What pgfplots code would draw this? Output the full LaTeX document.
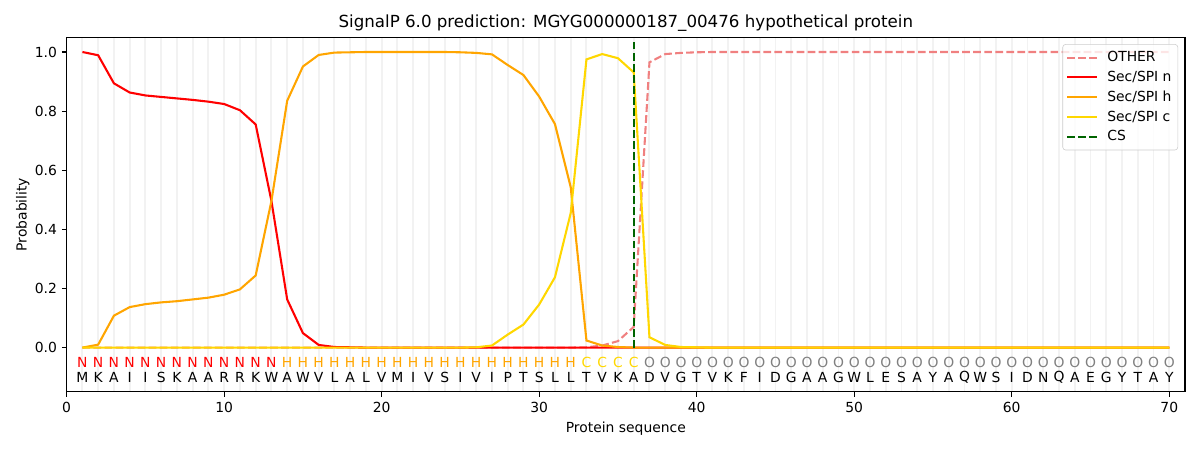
\documentclass[border=0pt]{standalone}
\usepackage{pgfplots}
\pgfplotsset{compat=1.18}
\usepackage{pgfplotstable}
\usepackage{fontspec}
\setmainfont{DejaVu Sans}
\definecolor{lcoral}{HTML}{F08080}
\definecolor{mporange}{HTML}{FFA500}
\definecolor{mpgold}{HTML}{FFD700}
\definecolor{mpdgreen}{HTML}{006400}
\definecolor{mpgray}{HTML}{808080}
\definecolor{gridc}{HTML}{F2F2F2}

\pgfplotstableread{
x other n h c
1 0 1.000 0.000 0
2 0 0.989 0.010 0
3 0 0.894 0.108 0
4 0 0.863 0.137 0
5 0 0.853 0.147 0
6 0 0.848 0.153 0
7 0 0.843 0.157 0
8 0 0.838 0.163 0
9 0 0.832 0.169 0
10 0 0.824 0.179 0
11 0 0.803 0.197 0
12 0 0.755 0.244 0
13 0 0.496 0.496 0
14 0 0.163 0.835 0
15 0 0.049 0.951 0
16 0 0.009 0.990 0
17 0 0.002 0.998 0
18 0 0.001 0.999 0
19 0 0 1.000 0
20 0 0 1.000 0
21 0 0 1.000 0
22 0 0 1.000 0
23 0 0 1.000 0
24 0 0 1.000 0
25 0 0 0.999 0
26 0 0 0.997 0.001
27 0 0 0.992 0.007
28 0 0 0.956 0.044
29 0 0 0.922 0.078
30 0 0 0.849 0.146
31 0 0 0.756 0.238
32 0 0 0.543 0.455
33 0.001 0 0.024 0.975
34 0.007 0 0.007 0.993
35 0.022 0 0.002 0.979
36 0.070 0 0.000 0.931
37 0.965 0 0 0.035
38 0.993 0 0 0.009
39 0.997 0 0 0.002
40 0.999 0 0 0.001
41 1 0 0 0
42 1 0 0 0
43 1 0 0 0
44 1 0 0 0
45 1 0 0 0
46 1 0 0 0
47 1 0 0 0
48 1 0 0 0
49 1 0 0 0
50 1 0 0 0
51 1 0 0 0
52 1 0 0 0
53 1 0 0 0
54 1 0 0 0
55 1 0 0 0
56 1 0 0 0
57 1 0 0 0
58 1 0 0 0
59 1 0 0 0
60 1 0 0 0
61 1 0 0 0
62 1 0 0 0
63 1 0 0 0
64 1 0 0 0
65 1 0 0 0
66 1 0 0 0
67 1 0 0 0
68 1 0 0 0
69 1 0 0 0
70 1 0 0 0
}\probs

\pgfplotstableread{
x y lab
1 -0.1 M
2 -0.1 K
3 -0.1 A
4 -0.1 I
5 -0.1 I
6 -0.1 S
7 -0.1 K
8 -0.1 A
9 -0.1 A
10 -0.1 R
11 -0.1 R
12 -0.1 K
13 -0.1 W
14 -0.1 A
15 -0.1 W
16 -0.1 V
17 -0.1 L
18 -0.1 A
19 -0.1 L
20 -0.1 V
21 -0.1 M
22 -0.1 I
23 -0.1 V
24 -0.1 S
25 -0.1 I
26 -0.1 V
27 -0.1 I
28 -0.1 P
29 -0.1 T
30 -0.1 S
31 -0.1 L
32 -0.1 L
33 -0.1 T
34 -0.1 V
35 -0.1 K
36 -0.1 A
37 -0.1 D
38 -0.1 V
39 -0.1 G
40 -0.1 T
41 -0.1 V
42 -0.1 K
43 -0.1 F
44 -0.1 I
45 -0.1 D
46 -0.1 G
47 -0.1 A
48 -0.1 A
49 -0.1 G
50 -0.1 W
51 -0.1 L
52 -0.1 E
53 -0.1 S
54 -0.1 A
55 -0.1 Y
56 -0.1 A
57 -0.1 Q
58 -0.1 W
59 -0.1 S
60 -0.1 I
61 -0.1 D
62 -0.1 N
63 -0.1 Q
64 -0.1 A
65 -0.1 E
66 -0.1 G
67 -0.1 Y
68 -0.1 T
69 -0.1 A
70 -0.1 Y
}\residues

\pgfplotstableread{
x y lab
1 -0.05 N
2 -0.05 N
3 -0.05 N
4 -0.05 N
5 -0.05 N
6 -0.05 N
7 -0.05 N
8 -0.05 N
9 -0.05 N
10 -0.05 N
11 -0.05 N
12 -0.05 N
13 -0.05 N
}\labN

\pgfplotstableread{
x y lab
14 -0.05 H
15 -0.05 H
16 -0.05 H
17 -0.05 H
18 -0.05 H
19 -0.05 H
20 -0.05 H
21 -0.05 H
22 -0.05 H
23 -0.05 H
24 -0.05 H
25 -0.05 H
26 -0.05 H
27 -0.05 H
28 -0.05 H
29 -0.05 H
30 -0.05 H
31 -0.05 H
32 -0.05 H
}\labH

\pgfplotstableread{
x y lab
33 -0.05 C
34 -0.05 C
35 -0.05 C
36 -0.05 C
}\labC

\pgfplotstableread{
x y lab
37 -0.05 O
38 -0.05 O
39 -0.05 O
40 -0.05 O
41 -0.05 O
42 -0.05 O
43 -0.05 O
44 -0.05 O
45 -0.05 O
46 -0.05 O
47 -0.05 O
48 -0.05 O
49 -0.05 O
50 -0.05 O
51 -0.05 O
52 -0.05 O
53 -0.05 O
54 -0.05 O
55 -0.05 O
56 -0.05 O
57 -0.05 O
58 -0.05 O
59 -0.05 O
60 -0.05 O
61 -0.05 O
62 -0.05 O
63 -0.05 O
64 -0.05 O
65 -0.05 O
66 -0.05 O
67 -0.05 O
68 -0.05 O
69 -0.05 O
70 -0.05 O
}\labO

\begin{document}
\begin{tikzpicture}
\useasboundingbox (0,0) rectangle (864pt,324pt);
\begin{axis}[
  at={(48pt,41.8pt)}, anchor=south west,
  width=805.2pt, height=255.4pt, scale only axis,
  xmin=0, xmax=71, ymin=-0.15, ymax=1.05,
  xtick={0,10,...,70},
  ytick={0,0.2,...,1.0},
  yticklabel style={/pgf/number format/.cd, fixed, fixed zerofill, precision=1},
  /pgf/number format/assume math mode=true,
  tick label style={font=\fontsize{10}{12}\selectfont},
  tick align=outside, major tick length=3.5pt,
  tick style={black, line width=0.8pt},
  xtick pos=bottom, ytick pos=left,
  axis line style={line width=0.8pt},
  minor xtick={1,...,70},
  xminorgrids=true,
  minor x tick style={draw=none},
  minor tick length=0pt,
  minor grid style={color=gridc, line width=1.4pt},
  title={SignalP 6.0 prediction: MGYG000000187\_00476 hypothetical protein},
  title style={font=\fontsize{12}{14}\selectfont, yshift=-5.6pt},
  xlabel={Protein sequence}, ylabel={Probability},
  label style={font=\fontsize{10}{12}\selectfont},
  ylabel style={yshift=-3pt},
  legend style={at={(1,1)}, anchor=north east, xshift=-5pt, yshift=-5pt,
    draw=black!20, rounded corners=2pt, fill=white, fill opacity=0.8, text opacity=1,
    font=\fontsize{10}{12}\selectfont, row sep=1.3pt, column sep=4.5pt,
    inner xsep=2.5pt, inner ysep=3pt},
  legend cell align=left,
  legend image code/.code={\draw[#1] (0pt,0pt) -- (21.6pt,0pt);},
]
\addplot[lcoral, line width=1.5pt, dash pattern=on 5.55pt off 2.4pt] table[x=x, y=other] {\probs};
\addlegendentry{OTHER}
\addplot[red, line width=1.5pt] table[x=x, y=n] {\probs};
\addlegendentry{Sec/SPI n}
\addplot[mporange, line width=1.5pt] table[x=x, y=h] {\probs};
\addlegendentry{Sec/SPI h}
\addplot[mpgold, line width=1.5pt] table[x=x, y=c] {\probs};
\addlegendentry{Sec/SPI c}
\addplot[mpdgreen, line width=1.5pt, dash pattern=on 5.55pt off 2.4pt] coordinates {(36,0) (36,1.035)};
\addlegendentry{CS}

\addplot[forget plot, draw=none, mark=none, point meta=explicit symbolic,
  nodes near coords, nodes near coords align={center},
  every node near coord/.append style={text=black, font=\fontsize{10}{12}\selectfont, inner sep=0pt}]
  table[x=x, y=y, meta=lab] {\residues};
\addplot[forget plot, draw=none, mark=none, point meta=explicit symbolic,
  nodes near coords, nodes near coords align={center},
  every node near coord/.append style={text=red, font=\fontsize{10}{12}\selectfont, inner sep=0pt}]
  table[x=x, y=y, meta=lab] {\labN};
\addplot[forget plot, draw=none, mark=none, point meta=explicit symbolic,
  nodes near coords, nodes near coords align={center},
  every node near coord/.append style={text=mporange, font=\fontsize{10}{12}\selectfont, inner sep=0pt}]
  table[x=x, y=y, meta=lab] {\labH};
\addplot[forget plot, draw=none, mark=none, point meta=explicit symbolic,
  nodes near coords, nodes near coords align={center},
  every node near coord/.append style={text=mpgold, font=\fontsize{10}{12}\selectfont, inner sep=0pt}]
  table[x=x, y=y, meta=lab] {\labC};
\addplot[forget plot, draw=none, mark=none, point meta=explicit symbolic,
  nodes near coords, nodes near coords align={center},
  every node near coord/.append style={text=mpgray, font=\fontsize{10}{12}\selectfont, inner sep=0pt}]
  table[x=x, y=y, meta=lab] {\labO};
\end{axis}
\end{tikzpicture}
\end{document}
